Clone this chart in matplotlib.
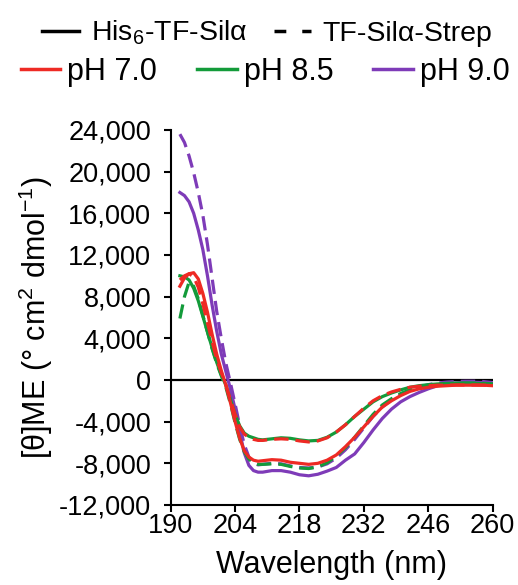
import matplotlib
matplotlib.use("Agg")
import matplotlib.pyplot as plt
from matplotlib.lines import Line2D
from matplotlib.ticker import FuncFormatter

plt.rcParams['font.family'] = ['Liberation Sans', 'DejaVu Sans']
plt.rcParams['mathtext.fontset'] = 'custom'
plt.rcParams['mathtext.rm'] = 'Liberation Sans'
plt.rcParams['mathtext.it'] = 'Liberation Sans:italic'
plt.rcParams['axes.unicode_minus'] = False

# wavelength grid (nm)
wavelength = [192, 193, 194, 195, 196, 197, 198, 199, 200, 201, 202, 203, 204, 205, 206, 207, 208, 209, 210,
              212, 214, 216, 218, 220, 222, 224, 226, 228, 230, 232, 234, 236, 238, 240, 242, 244, 246, 248,
              250, 252, 254, 256, 258, 260]

# His6-TF-Sila (solid)
his_ph70 = [9000, 9800, 10200, 10300, 9700, 8300, 6500, 4400, 2500, 900, -500, -2200, -4000, -5600, -6800,
            -7400, -7700, -7800, -7750,
            -7650, -7700, -7900, -8000, -8100, -8000, -7700, -7200, -6400, -5500, -4500, -3500, -2600, -2000,
            -1500, -1100, -850, -700, -600, -550, -500, -500, -500, -500, -550]
his_ph85 = [10000, 9900, 9600, 8800, 7600, 6100, 4600, 3100, 1700, 500, -500, -1900, -3300, -4400, -5100,
            -5400, -5550, -5700, -5750,
            -5650, -5550, -5600, -5750, -5850, -5800, -5500, -5000, -4300, -3500, -2800, -2100, -1600, -1250,
            -950, -700, -550, -450, -380, -330, -300, -300, -320, -350, -400]
his_ph90 = [18000, 17700, 17100, 16000, 14400, 12500, 10000, 7200, 4700, 2500, 800, -900, -2800, -5000, -7000,
            -8200, -8700, -8850, -8850,
            -8700, -8700, -8850, -9100, -9200, -9050, -8750, -8400, -7700, -7100, -6000, -4800, -3700, -2800,
            -2100, -1600, -1200, -850, -550, -380, -280, -220, -220, -250, -330]

# TF-Sila-Strep (dashed)
strep_ph70 = [9600, 10000, 10200, 9900, 8900, 7300, 5500, 3700, 2000, 700, -500, -1900, -3300, -4500, -5200,
              -5500, -5700, -5800, -5800,
              -5700, -5650, -5700, -5850, -5950, -5850, -5550, -5000, -4300, -3500, -2700, -2000, -1500, -1150,
              -900, -700, -600, -550, -500, -500, -480, -480, -480, -500, -520]
strep_ph85 = [5900, 8000, 9400, 9000, 7800, 6200, 4600, 3000, 1600, 400, -700, -2300, -4100, -5700, -6900,
              -7600, -7950, -8100, -8100,
              -8050, -8100, -8300, -8450, -8500, -8350, -7950, -7300, -6500, -5500, -4400, -3300, -2400, -1800,
              -1300, -950, -700, -550, -450, -380, -330, -300, -300, -320, -380]
strep_ph90 = [23600, 22800, 21500, 19900, 18000, 15800, 13000, 9800, 6600, 4000, 1600, -300, -2300, -4400, -6200,
              -7400, -8000, -8150, -8100,
              -8000, -8050, -8250, -8400, -8450, -8350, -8050, -7500, -6700, -5700, -4600, -3500, -2600, -1900,
              -1400, -1000, -700, -450, -300, -200, -150, -120, -120, -150, -250]

red = '#ee2a24'
green = '#139b3a'
purple = '#7e3bb8'
lw = 2.3
dash = (4.5, 2.2)

fig = plt.figure(figsize=(5.18, 5.85), dpi=100)
ax = fig.add_axes([0.3295, 0.1368, 0.6216, 0.641])

ax.axhline(0, color='black', lw=1.6, zorder=1)

ax.plot(wavelength, strep_ph90, color=purple, lw=lw, dashes=dash, zorder=2)
ax.plot(wavelength, his_ph90, color=purple, lw=lw, zorder=3)
ax.plot(wavelength, strep_ph85, color=green, lw=lw, dashes=dash, zorder=4)
ax.plot(wavelength, his_ph85, color=green, lw=lw, zorder=4)
ax.plot(wavelength, his_ph70, color=red, lw=lw, zorder=5)
ax.plot(wavelength, strep_ph70, color=red, lw=lw, dashes=dash, zorder=5)

ax.set_xlim(190, 260)
ax.set_ylim(-12000, 24000)
ax.set_xticks([190, 204, 218, 232, 246, 260])
ax.set_yticks(range(-12000, 24001, 4000))
ax.yaxis.set_major_formatter(FuncFormatter(lambda v, p: f"{int(v):,}"))

for s in ['top', 'right']:
    ax.spines[s].set_visible(False)
for s in ['left', 'bottom']:
    ax.spines[s].set_linewidth(1.5)
ax.tick_params(axis='both', direction='out', length=5, width=1.5, labelsize=19.5)
ax.tick_params(axis='y', pad=9)
ax.tick_params(axis='x', pad=1)

ax.set_xlabel('Wavelength (nm)', fontsize=22, labelpad=8)
ax.set_ylabel(r'[θ]ME (° cm$^2$ dmol$^{-1}$)', fontsize=22, labelpad=3)

# legends
h1 = [Line2D([], [], color='black', lw=2.5),
      Line2D([], [], color='black', lw=2.5, dashes=(3.4, 4.6))]
fig.legend(h1, [r'His$_6$-TF-Silα', 'TF-Silα-Strep'], ncol=2, loc='center',
           bbox_to_anchor=(0.516, 0.944), frameon=False, fontsize=20.5,
           handlelength=1.3, handletextpad=0.4, columnspacing=0.95, borderaxespad=0)
h2 = [Line2D([], [], color=red, lw=2.5),
      Line2D([], [], color=green, lw=2.5),
      Line2D([], [], color=purple, lw=2.5)]
fig.legend(h2, ['pH 7.0', 'pH 8.5', 'pH 9.0'], ncol=3, loc='center',
           bbox_to_anchor=(0.512, 0.877), frameon=False, fontsize=22,
           handlelength=1.3, handletextpad=0.23, columnspacing=1.3, borderaxespad=0)

fig.savefig('out.png', dpi=100)
